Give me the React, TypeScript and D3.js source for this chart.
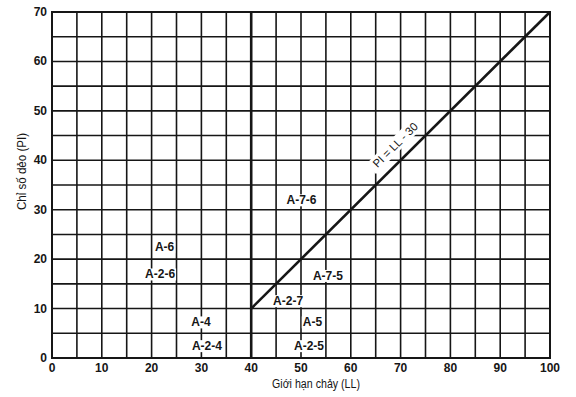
import React from "react";
import * as d3 from "d3";

const xTicks = [0, 10, 20, 30, 40, 50, 60, 70, 80, 90, 100];
const yTicks = [0, 10, 20, 30, 40, 50, 60, 70];
const gridX = [0, 5, 10, 15, 20, 25, 30, 35, 40, 45, 50, 55, 60, 65, 70, 75, 80, 85, 90, 95, 100];
const gridY = [0, 5, 10, 15, 20, 25, 30, 35, 40, 45, 50, 55, 60, 65, 70];
const boundaryLL = [40, 100];
const boundaryPI = [10, 70];
const dividerLL = 40;
const zoneNames = ["A-6", "A-2-6", "A-4", "A-2-4", "A-5", "A-2-5", "A-2-7", "A-7-5", "A-7-6"];
const zoneLL = [22.6, 21.7, 29.9, 31.1, 52.3, 51.6, 47.4, 55.4, 50.1];
const zonePI = [22.4, 16.9, 7.2, 2.4, 7.2, 2.4, 11.5, 16.6, 31.9];
const lineLabel = "PI = LL - 30";
const lineLabelLL = 69.2;
const lineLabelPI = 42.8;
const xTitle = "Giới hạn chảy (LL)";
const yTitle = "Chỉ số dẻo (PI)";

const W = 576;
const H = 397;
const left = 52;
const right = 550;
const top = 12;
const bottom = 358;
const ink = "#161616";
const font = "'Liberation Sans', Arial, sans-serif";

function labelWidth(s: string) {
  let w = 0;
  for (const c of s) w += c === "-" ? 4 : c === "A" ? 8.7 : 6.7;
  return w + 2;
}

export default function App() {
  const x = d3.scaleLinear().domain([0, 100]).range([left, right]);
  const y = d3.scaleLinear().domain([0, 70]).range([bottom, top]);
  const line = d3
    .line<number>()
    .x((d) => x(boundaryLL[d]))
    .y((d) => y(boundaryPI[d]));
  const angle = (Math.atan2(y(70) - y(10), x(100) - x(40)) * 180) / Math.PI;
  const lx = x(lineLabelLL);
  const ly = y(lineLabelPI);

  return (
    <div style={{ position: "fixed", left: 0, top: 0, width: W, height: H, background: "#fff" }}>
      <svg width={W} height={H} style={{ display: "block" }}>
        <rect x={0} y={0} width={W} height={H} fill="#fff" />
        {gridX.map((g) => (
          <line key={"gx" + g} x1={x(g)} x2={x(g)} y1={y(0)} y2={y(70)} stroke={ink} strokeWidth={1.6} />
        ))}
        {gridY.map((g) => (
          <line key={"gy" + g} x1={x(0)} x2={x(100)} y1={y(g)} y2={y(g)} stroke={ink} strokeWidth={1.6} />
        ))}
        <rect x={x(0)} y={y(70)} width={x(100) - x(0)} height={y(0) - y(70)} fill="none" stroke={ink} strokeWidth={2} />
        <line x1={x(dividerLL)} x2={x(dividerLL)} y1={y(0)} y2={y(70)} stroke={ink} strokeWidth={2.6} />
        <path d={line([0, 1]) || ""} fill="none" stroke={ink} strokeWidth={2.6} />

        {zoneNames.map((n, i) => {
          const w = labelWidth(n);
          return (
            <g key={n} transform={`translate(${x(zoneLL[i])},${y(zonePI[i])})`}>
              <rect x={-w / 2} y={-6} width={w} height={12} fill="#fff" />
              <text
                textAnchor="middle"
                dominantBaseline="central"
                fontFamily={font}
                fontSize={12}
                fontWeight="bold"
                fill={ink}
              >
                {n}
              </text>
            </g>
          );
        })}

        <g transform={`translate(${lx},${ly}) rotate(${angle})`}>
          <rect x={-34} y={-9} width={68} height={14} fill="#fff" />
          <text
            textAnchor="middle"
            dominantBaseline="central"
            y={-2}
            fontFamily={font}
            fontSize={11.5}
            fill={ink}
            textLength={58}
            lengthAdjust="spacingAndGlyphs"
          >
            {lineLabel}
          </text>
        </g>

        {xTicks.map((t) => (
          <text
            key={"xt" + t}
            x={x(t)}
            y={372}
            textAnchor="middle"
            fontFamily={font}
            fontSize={12}
            fontWeight="bold"
            fill={ink}
          >
            {t}
          </text>
        ))}
        {yTicks.map((t) => (
          <text
            key={"yt" + t}
            x={47}
            y={y(t)}
            textAnchor="end"
            dominantBaseline="central"
            fontFamily={font}
            fontSize={12}
            fontWeight="bold"
            fill={ink}
          >
            {t}
          </text>
        ))}

        <text
          x={316}
          y={388}
          textAnchor="middle"
          fontFamily={font}
          fontSize={12}
          fill={ink}
          textLength={88}
          lengthAdjust="spacingAndGlyphs"
        >
          {xTitle}
        </text>
        <text
          transform={`translate(22,${171.5}) rotate(-90)`}
          textAnchor="middle"
          dominantBaseline="central"
          fontFamily={font}
          fontSize={12}
          fill={ink}
          textLength={77}
          lengthAdjust="spacingAndGlyphs"
        >
          {yTitle}
        </text>
      </svg>
    </div>
  );
}
